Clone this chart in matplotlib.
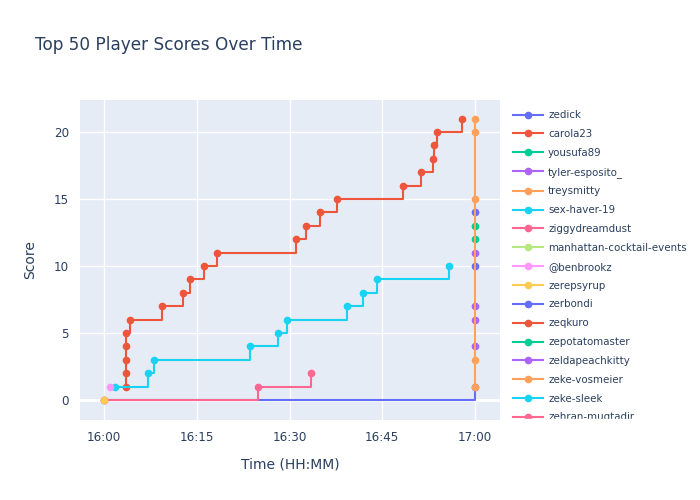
import pandas as pd
import numpy as np
import matplotlib.pyplot as plt
import matplotlib.dates as mdates
from matplotlib.lines import Line2D
from matplotlib.patches import Rectangle

# plotly default colour cycle
colors = ['#636EFA', '#EF553B', '#00CC96', '#AB63FA', '#FFA15A',
          '#19D3F3', '#FF6692', '#B6E880', '#FF97FF', '#FECB52']

# players as they appear in the legend (only first 17 visible)
players = ['zedick', 'carola23', 'yousufa89', 'tyler-esposito_', 'treysmitty',
           'sex-haver-19', 'ziggydreamdust', 'manhattan-cocktail-events',
           '@benbrookz', 'zerepsyrup', 'zerbondi', 'zeqkuro', 'zepotatomaster',
           'zeldapeachkitty', 'zeke-vosmeier', 'zeke-sleek', 'zehran-muqtadir']

# submission times (HH:MM:SS) and running scores per player
zedick_t = ['16:00:00', '17:00:00']
zedick_s = [0, 1]
carola23_t = ['16:03:34', '16:03:34', '16:03:34', '16:03:34', '16:03:34',
              '16:04:12', '16:09:24', '16:12:48', '16:13:54', '16:16:12',
              '16:18:18', '16:31:06', '16:32:42', '16:34:54', '16:37:42',
              '16:48:24', '16:51:18', '16:53:12', '16:53:24', '16:53:54',
              '16:57:54']
carola23_s = list(range(1, 22))
yousufa89_t = ['17:00:00']
yousufa89_s = [13]
tyler_t = ['17:00:00']
tyler_s = [11]
sexhaver_t = ['16:01:47', '16:07:06', '16:08:06', '16:23:36', '16:28:06',
              '16:29:36', '16:39:18', '16:41:54', '16:44:12', '16:55:48']
sexhaver_s = list(range(1, 11))
ziggy_t = ['16:00:00', '16:24:54', '16:33:30']
ziggy_s = [0, 1, 2]
benbrookz_t = ['16:00:55']
benbrookz_s = [1]
zerepsyrup_t = ['16:00:00']
zerepsyrup_s = [0]
zerbondi_t = ['17:00:00']
zerbondi_s = [14]
zepotatomaster_t = ['17:00:00']
zepotatomaster_s = [12]
zeldapeachkitty_t = ['17:00:00']
zeldapeachkitty_s = [7]
zekevosmeier_t = ['17:00:00'] * 5
zekevosmeier_s = [1, 3, 15, 20, 21]

# players past the visible part of the legend: (index in top 50, final score)
hidden_idx = [20, 23, 33]
hidden_s = [10, 6, 4]

series = {
    'zedick': (zedick_t, zedick_s),
    'carola23': (carola23_t, carola23_s),
    'yousufa89': (yousufa89_t, yousufa89_s),
    'tyler-esposito_': (tyler_t, tyler_s),
    'sex-haver-19': (sexhaver_t, sexhaver_s),
    'ziggydreamdust': (ziggy_t, ziggy_s),
    '@benbrookz': (benbrookz_t, benbrookz_s),
    'zerepsyrup': (zerepsyrup_t, zerepsyrup_s),
    'zerbondi': (zerbondi_t, zerbondi_s),
    'zepotatomaster': (zepotatomaster_t, zepotatomaster_s),
    'zeldapeachkitty': (zeldapeachkitty_t, zeldapeachkitty_s),
    'zeke-vosmeier': (zekevosmeier_t, zekevosmeier_s),
}

day = '2024-01-01 '
def to_dt(ts):
    return pd.to_datetime([day + t for t in ts])

text_col = '#2a3f5f'
fig = plt.figure(figsize=(7, 5), dpi=100)
ax = fig.add_axes([80 / 700, 80 / 500, 420 / 700, 320 / 500])
ax.set_facecolor('#E5ECF6')

for i, name in enumerate(players):
    if name in series:
        t, s = series[name]
        ax.plot(to_dt(t), s, drawstyle='steps-post', color=colors[i % 10],
                lw=1.5, marker='o', ms=4.5, zorder=2 + i * 0.01)
for idx, s in zip(hidden_idx, hidden_s):
    ax.plot(to_dt(['17:00:00']), [s], color=colors[idx % 10], marker='o',
            ms=4.5, lw=0, zorder=2)

ax.set_xlim(pd.Timestamp(day + '15:56:06'), pd.Timestamp(day + '17:04:03'))
ax.set_ylim(-1.49, 22.39)
ax.set_yticks([0, 5, 10, 15, 20])
ax.xaxis.set_major_locator(mdates.MinuteLocator(byminute=[0, 15, 30, 45]))
ax.xaxis.set_major_formatter(mdates.DateFormatter('%H:%M'))
ax.grid(True, color='white', lw=1)
ax.axhline(0, color='white', lw=2, zorder=1)
ax.set_axisbelow(True)
for sp in ax.spines.values():
    sp.set_visible(False)
ax.tick_params(length=0, labelsize=8.6, colors=text_col, pad=8)
ax.set_xlabel('Time (HH:MM)', fontsize=10, color=text_col, labelpad=10)
ax.set_ylabel('Score', fontsize=10, color=text_col, labelpad=12)

fig.text(35 / 700, 1 - 45 / 500, 'Top 50 Player Scores Over Time',
         fontsize=12.2, color=text_col, va='center')

handles = [Line2D([], [], color=colors[i % 10], lw=1.5, marker='o', ms=4.5)
           for i in range(len(players))]
fig.legend(handles, players, loc='upper left',
           bbox_to_anchor=(508 / 700, 1 - 105 / 500), frameon=False,
           fontsize=7.4, handlelength=2.9, handletextpad=0.5,
           labelspacing=0.86, borderpad=0, labelcolor=text_col)
# legend is a scrolling box in the original, cut off at the bottom
fig.add_artist(Rectangle((505 / 700, 0), 195 / 700, 1 - 419 / 500,
                         transform=fig.transFigure, color='white', zorder=10))

plt.savefig('out.png')
